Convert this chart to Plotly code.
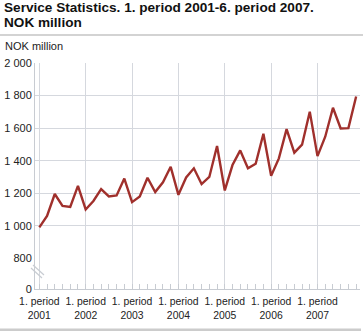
import plotly.graph_objects as go

years = [2001, 2002, 2003, 2004, 2005, 2006, 2007]
periods = [f"{p}. period {y}" for y in years for p in range(1, 7)]
values = [
    990, 1060, 1195, 1122, 1115, 1245,
    1100, 1152, 1225, 1180, 1186, 1290,
    1145, 1180, 1295, 1207, 1267, 1362,
    1190, 1297, 1353, 1256, 1300, 1490,
    1217, 1373, 1463, 1353, 1381, 1565,
    1307, 1414, 1594, 1449, 1498, 1701,
    1428, 1547, 1725, 1598, 1600, 1794,
]
x_idx = list(range(len(values)))
xtick_vals = [i * 6 for i in range(len(years))]
xtick_text = [f"1. period<br>{y}" for y in years]
ytick_vals = [800, 1000, 1200, 1400, 1600, 1800, 2000]
ytick_text = ["800", "1 000", "1 200", "1 400", "1 600", "1 800", "2 000"]

W, H = 363, 331
L, R, T, B = 35, 3, 63, 42
pw, ph = W - L - R, H - T - B

def px(xp):
    return (xp - L) / pw

def py(yp):
    return (H - B - yp) / ph

line_color = "#a0302c"
grid_color = "#d5d8de"
axis_color = "#c8ccd2"
font = "Liberation Sans, Arial, sans-serif"
split = 30.7 / ph

fig = go.Figure()
fig.add_trace(go.Scatter(x=x_idx, y=values, mode="lines",
                         line=dict(color=line_color, width=2.4),
                         text=periods, hoverinfo="text+y", showlegend=False))
fig.add_trace(go.Scatter(x=[None], y=[None], xaxis="x", yaxis="y2",
                         showlegend=False, hoverinfo="skip"))

fig.update_layout(
    width=W, height=H,
    margin=dict(l=L, r=R, t=T, b=B, pad=0),
    paper_bgcolor="white", plot_bgcolor="white",
    font=dict(family=font, size=11, color="#222"),
    xaxis=dict(range=[-0.56, 41.5], anchor="y2",
               tickmode="array", tickvals=xtick_vals, ticktext=xtick_text,
               showgrid=True, gridcolor=grid_color, gridwidth=1,
               ticks="inside", ticklen=5, tickcolor=axis_color,
               minor=dict(tickmode="array", tickvals=x_idx, ticks="inside",
                          ticklen=5, tickcolor=axis_color, showgrid=False),
               showline=True, linecolor=axis_color, linewidth=1,
               zeroline=False, tickfont=dict(size=10.4),
               ticklabelstandoff=3),
    yaxis=dict(domain=[split, 1], range=[800, 2000], anchor="x",
               tickmode="array", tickvals=ytick_vals, ticktext=ytick_text,
               showgrid=True, gridcolor=grid_color, gridwidth=1,
               showline=True, linecolor=axis_color, zeroline=False,
               ticks="", tickfont=dict(size=11)),
    yaxis2=dict(domain=[0, split], range=[0, 1], anchor="x",
                tickmode="array", tickvals=[0], ticktext=["0"],
                showgrid=False, showline=True, linecolor=axis_color,
                zeroline=False, ticks="", tickfont=dict(size=11)),
)

fig.add_annotation(text="<b>Service Statistics. 1. period 2001-6. period 2007.</b>",
                   xref="paper", yref="paper", x=px(2), y=py(8),
                   xanchor="left", yanchor="middle", showarrow=False,
                   font=dict(size=13.6, color="#111"))
fig.add_annotation(text="<b>NOK million</b>",
                   xref="paper", yref="paper", x=px(2), y=py(23),
                   xanchor="left", yanchor="middle", showarrow=False,
                   font=dict(size=13.6, color="#111"))
fig.add_annotation(text="NOK million",
                   xref="paper", yref="paper", x=px(3), y=py(46),
                   xanchor="left", yanchor="middle", showarrow=False,
                   font=dict(size=11, color="#222"))

# separator lines
fig.add_shape(type="line", xref="paper", yref="paper",
              x0=px(0), x1=px(363), y0=py(35), y1=py(35),
              line=dict(color="#c4c4c4", width=1.5))
fig.add_shape(type="line", xref="paper", yref="paper",
              x0=px(0), x1=px(361), y0=py(330), y1=py(330),
              line=dict(color="#cccccc", width=3))
# axis break marks
for dx, dy in [(0, 0), (2, -3)]:
    fig.add_shape(type="line", xref="paper", yref="paper",
                  x0=px(31 + dx), x1=px(42 + dx), y0=py(268 + dy), y1=py(278 + dy),
                  line=dict(color="#c8ccd2", width=1.2))

fig.write_html("out.html")
